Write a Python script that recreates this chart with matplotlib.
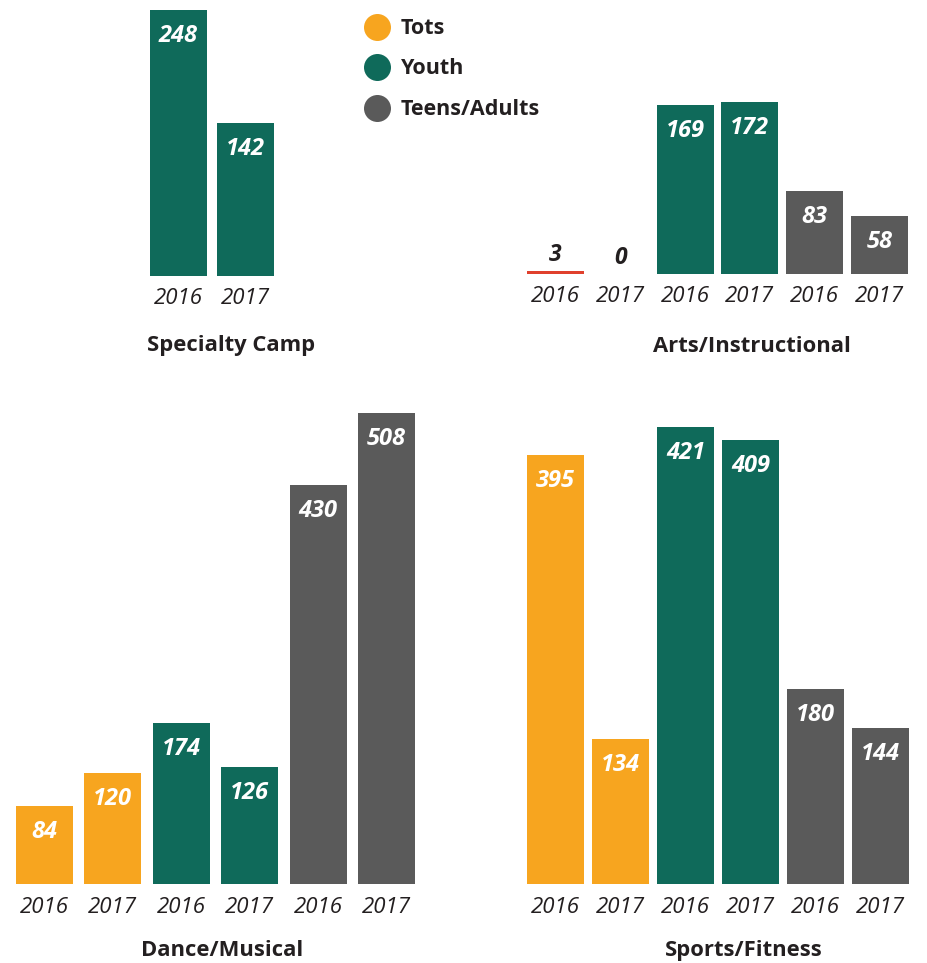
import matplotlib
matplotlib.use("Agg")
import matplotlib.pyplot as plt
import numpy as np

# ---- data ----
years = ["2016", "2017"]
groups = ["Tots", "Youth", "Teens/Adults"]

specialty_camp = {"Youth": [248, 142]}
arts_instructional = {"Tots": [3, 0], "Youth": [169, 172], "Teens/Adults": [83, 58]}
dance_musical = {"Tots": [84, 120], "Youth": [174, 126], "Teens/Adults": [430, 508]}
sports_fitness = {"Tots": [395, 134], "Youth": [421, 409], "Teens/Adults": [180, 144]}

# ---- style ----
W, H, DPI = 928, 963, 100
COLORS = {"Tots": "#F7A51F", "Youth": "#0F6A5A", "Teens/Adults": "#5A5A5A"}
SMALL_BAR = "#E0402D"
INK = "#231F20"
FONT = ["Open Sans", "DejaVu Sans"]
plt.rcParams["font.family"] = FONT

fig = plt.figure(figsize=(W / DPI, H / DPI), dpi=DPI)


def px_to_pt(p):
    return p * 72.0 / DPI


def panel(data, title, center0, pitch, baseline, top, scale, title_xy):
    labels, values, colors = [], [], []
    for g, vals in data.items():
        for y, v in zip(years, vals):
            labels.append(y)
            values.append(v)
            colors.append(COLORS[g])
    n = len(values)
    left = center0 - pitch / 2
    width = n * pitch
    ax = fig.add_axes([left / W, 1 - baseline / H, width / W, (baseline - top) / H])
    ax.set_xlim(-0.5, n - 0.5)
    ax.set_ylim(0, (baseline - top) / scale)
    ax.axis("off")
    x = np.arange(n)
    bar_colors = [SMALL_BAR if 0 < v * scale < 6 else c for v, c in zip(values, colors)]
    ax.bar(x, values, width=57 / pitch, color=bar_colors, linewidth=0)
    for xi, v, lab in zip(x, values, labels):
        if v * scale > 40:
            ax.annotate(str(v), (xi, v), xytext=(0, -px_to_pt(26)), textcoords="offset points",
                        ha="center", va="center", color="white", fontsize=17,
                        fontweight="bold", fontstyle="italic")
        else:
            ax.annotate(str(v), (xi, v), xytext=(0, px_to_pt(16)), textcoords="offset points",
                        ha="center", va="center", color=INK, fontsize=16.5,
                        fontweight="bold", fontstyle="italic")
        ax.annotate(lab, (xi, 0), xytext=(0, -px_to_pt(23)), textcoords="offset points",
                    ha="center", va="center", color=INK, fontsize=16,
                    fontstyle="italic", annotation_clip=False)
    fig.text(title_xy[0] / W, 1 - title_xy[1] / H, title, ha="center", va="center",
             color=INK, fontsize=15.8, fontweight="bold")
    return ax


panel(specialty_camp, "Specialty Camp", 178.5, 67, 275.5, 5, 265.5 / 248, (231, 345))
panel(arts_instructional, "Arts/Instructional", 555.5, 64.8, 274, 5, 1.0, (752, 346))
panel(dance_musical, "Dance/Musical", 44.5, 68.4, 884, 400, 471 / 508, (222, 950))
panel(sports_fitness, "Sports/Fitness", 555.5, 65, 884, 400, 457 / 421, (744, 950))

# ---- legend ----
lax = fig.add_axes([0, 0, 1, 1])
lax.set_xlim(0, W)
lax.set_ylim(H, 0)
lax.axis("off")
for i, g in enumerate(groups):
    yy = 27 + i * 40.5
    lax.scatter([377], [yy], s=px_to_pt(27) ** 2, color=COLORS[g], linewidths=0)
    lax.text(401, yy + 1.5, g, ha="left", va="center", color=INK, fontsize=15.5, fontweight="bold")

fig.savefig("out.png", dpi=DPI)
